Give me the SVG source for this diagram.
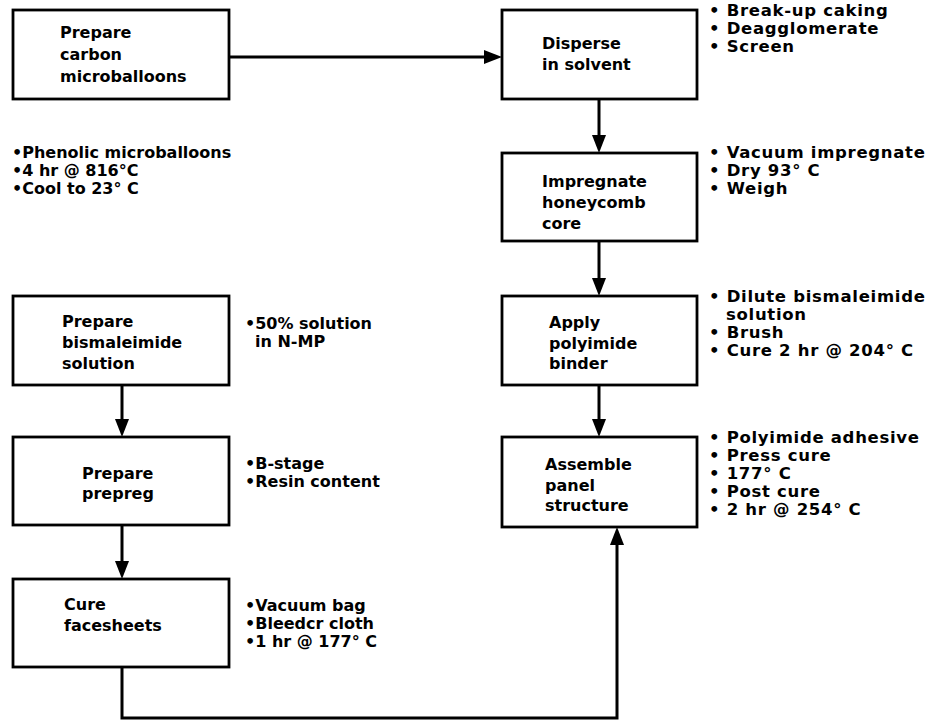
<svg xmlns="http://www.w3.org/2000/svg" width="947" height="726" viewBox="0 0 947 726">
<style>
.box{fill:#fff;stroke:#000;stroke-width:2.8}
.t{font-family:"DejaVu Sans","Liberation Sans",sans-serif;font-weight:bold;font-size:16px;fill:#000}
.r{font-size:16.5px;letter-spacing:0.7px}
.conn{stroke:#000;stroke-width:3;fill:none}
</style>
<defs>
<marker id="ah" markerUnits="userSpaceOnUse" markerWidth="18" markerHeight="14" refX="10" refY="7" orient="auto">
<path d="M0,0 L18,7 L0,14 Z" fill="#000"/>
</marker>
</defs>
<rect width="947" height="726" fill="#fff"/>
<g id="connectors">
<path class="conn" d="M229,57 H494" marker-end="url(#ah)"/>
<path class="conn" d="M599,99 V145" marker-end="url(#ah)"/>
<path class="conn" d="M599,241 V288" marker-end="url(#ah)"/>
<path class="conn" d="M599,385 V429" marker-end="url(#ah)"/>
<path class="conn" d="M122,385 V429" marker-end="url(#ah)"/>
<path class="conn" d="M122,525 V571" marker-end="url(#ah)"/>
<path class="conn" d="M122,667 V718 H617 V535" marker-end="url(#ah)"/>
</g>
<g id="n1">
<rect class="box" x="13" y="10" width="216" height="89"/>
<text class="t" x="60" y="38">Prepare</text>
<text class="t" x="60" y="60">carbon</text>
<text class="t" x="60" y="82">microballoons</text>
</g>
<g id="n1-notes">
<text class="t" x="12" y="158">•Phenolic microballoons</text>
<text class="t" x="12" y="176">•4 hr @ 816°C</text>
<text class="t" x="12" y="194">•Cool to 23° C</text>
</g>
<g id="n2">
<rect class="box" x="502" y="10" width="195" height="89"/>
<text class="t" x="542" y="49">Disperse</text>
<text class="t" x="542" y="70">in solvent</text>
</g>
<g id="n2-notes">
<text class="t r" x="709" y="16">• Break-up caking</text>
<text class="t r" x="709" y="34">• Deagglomerate</text>
<text class="t r" x="709" y="52">• Screen</text>
</g>
<g id="n3">
<rect class="box" x="502" y="153" width="195" height="88"/>
<text class="t" x="542" y="187">Impregnate</text>
<text class="t" x="542" y="208">honeycomb</text>
<text class="t" x="542" y="229">core</text>
</g>
<g id="n3-notes">
<text class="t r" x="709" y="158">• Vacuum impregnate</text>
<text class="t r" x="709" y="176">• Dry 93° C</text>
<text class="t r" x="709" y="194">• Weigh</text>
</g>
<g id="n4">
<rect class="box" x="502" y="296" width="195" height="89"/>
<text class="t" x="549" y="328">Apply</text>
<text class="t" x="549" y="349">polyimide</text>
<text class="t" x="549" y="369">binder</text>
</g>
<g id="n4-notes">
<text class="t r" x="709" y="302">• Dilute bismaleimide</text>
<text class="t r" x="726" y="320">solution</text>
<text class="t r" x="709" y="338">• Brush</text>
<text class="t r" x="709" y="356">• Cure 2 hr @ 204° C</text>
</g>
<g id="n5">
<rect class="box" x="502" y="437" width="195" height="90"/>
<text class="t" x="545" y="470">Assemble</text>
<text class="t" x="545" y="491">panel</text>
<text class="t" x="545" y="511">structure</text>
</g>
<g id="n5-notes">
<text class="t r" x="709" y="443">• Polyimide adhesive</text>
<text class="t r" x="709" y="461">• Press cure</text>
<text class="t r" x="709" y="479">• 177° C</text>
<text class="t r" x="709" y="497">• Post cure</text>
<text class="t r" x="709" y="515">• 2 hr @ 254° C</text>
</g>
<g id="n6">
<rect class="box" x="13" y="296" width="216" height="89"/>
<text class="t" x="62" y="327">Prepare</text>
<text class="t" x="62" y="348">bismaleimide</text>
<text class="t" x="62" y="369">solution</text>
</g>
<g id="n6-notes">
<text class="t" x="245" y="329">•50% solution</text>
<text class="t" x="255" y="347">in N-MP</text>
</g>
<g id="n7">
<rect class="box" x="13" y="437" width="216" height="88"/>
<text class="t" x="82" y="479">Prepare</text>
<text class="t" x="82" y="499">prepreg</text>
</g>
<g id="n7-notes">
<text class="t" x="245" y="469">•B-stage</text>
<text class="t" x="245" y="487">•Resin content</text>
</g>
<g id="n8">
<rect class="box" x="13" y="579" width="216" height="88"/>
<text class="t" x="64" y="610">Cure</text>
<text class="t" x="64" y="631">facesheets</text>
</g>
<g id="n8-notes">
<text class="t" x="245" y="611">•Vacuum bag</text>
<text class="t" x="245" y="629">•Bleedcr cloth</text>
<text class="t" x="245" y="647">•1 hr @ 177° C</text>
</g>
</svg>
